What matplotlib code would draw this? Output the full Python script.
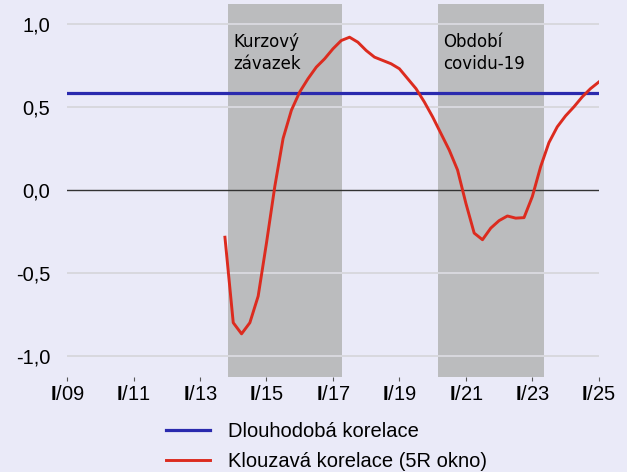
import numpy as np
import matplotlib
matplotlib.use('Agg')
import matplotlib.pyplot as plt

plt.rcParams['font.family'] = ['Liberation Sans', 'DejaVu Sans']
plt.rcParams['mathtext.fontset'] = 'custom'
plt.rcParams['mathtext.bf'] = 'Liberation Sans:bold'
plt.rcParams['mathtext.rm'] = 'Liberation Sans'

bgColor = '#EAEAF8'
spanColor = '#BBBCBE'
gridColor = '#D8D8DE'
blueColor = '#2A2AAE'
redColor = '#DC2B1F'

# quarterly rolling correlation, Q4/2013 .. Q1/2025
start_year = 2013.75
rolling_corr = [-0.285, -0.80, -0.867, -0.80, -0.64, -0.32, 0.02, 0.31,
                0.48, 0.59, 0.67, 0.74, 0.79, 0.85, 0.90, 0.92,
                0.89, 0.84, 0.80, 0.78, 0.76, 0.73, 0.67, 0.61,
                0.53, 0.44, 0.34, 0.24, 0.12, -0.08, -0.26, -0.30,
                -0.23, -0.185, -0.157, -0.17, -0.167, -0.04, 0.14, 0.285,
                0.38, 0.446, 0.50, 0.56, 0.61, 0.65]
long_corr = 0.584

periods = [(2013.84, 2017.27, 'Kurzový\nzávazek'),
           (2020.16, 2023.35, 'Období\ncovidu-19')]

tick_years = [2009, 2011, 2013, 2015, 2017, 2019, 2021, 2023, 2025]
ytick_vals = [-1.0, -0.5, 0.0, 0.5, 1.0]

dates = start_year + np.arange(len(rolling_corr)) * 0.25

fig = plt.figure(figsize=(6.27, 4.72), dpi=100)
fig.patch.set_facecolor(bgColor)
ax = fig.add_axes([0.107, 0.2013, 0.848, 0.7902])
ax.set_facecolor(bgColor)

for x0, x1, name in periods:
    ax.axvspan(x0, x1, color=spanColor, lw=0, zorder=0)
    ax.text(x0 + 0.17, 0.945, name, family='DejaVu Sans', fontsize=12,
            va='top', ha='left', linespacing=1.3, zorder=4)

for v in ytick_vals:
    if v == 0:
        ax.axhline(v, color='#333333', lw=1, zorder=1)
    else:
        ax.axhline(v, color=gridColor, lw=1.4, zorder=1)

ax.axhline(long_corr, color=blueColor, lw=2.3, zorder=3, label='Dlouhodobá korelace')
ax.plot(dates, rolling_corr, color=redColor, lw=2.1, zorder=3,
        label='Klouzavá korelace (5R okno)')

ax.set_xlim(2009, 2025)
ax.set_ylim(-1.127, 1.12)
ax.set_xticks(tick_years)
ax.set_xticklabels([r'$\mathbf{I}$/%02d' % (y % 100) for y in tick_years])
ax.set_yticks(ytick_vals)
ax.set_yticklabels([('%.1f' % v).replace('.', ',') for v in ytick_vals])
ax.tick_params(axis='x', length=3, color='#555555', labelsize=14.5, pad=3)
ax.tick_params(axis='y', length=0, labelsize=14.5, pad=12)
for s in ax.spines.values():
    s.set_visible(False)

ax.legend(loc='upper left', bbox_to_anchor=(0.17, -0.099), frameon=False,
          fontsize=14.5, handlelength=2.2, handletextpad=0.9, labelspacing=0.55,
          borderaxespad=0)

fig.savefig('out.png', dpi=100, facecolor=bgColor)
